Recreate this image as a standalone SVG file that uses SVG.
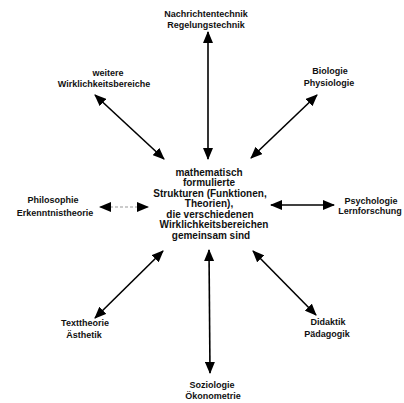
<svg xmlns="http://www.w3.org/2000/svg" width="404" height="403" viewBox="0 0 404 403">
<defs>
<marker id="ah" viewBox="0 0 12 10" refX="11" refY="5" markerWidth="12" markerHeight="10" markerUnits="userSpaceOnUse" orient="auto-start-reverse">
<path d="M0,0 L12,5 L0,10 Z" fill="#000"/>
</marker>
<style>
text{font-family:"Liberation Sans",Arial,sans-serif;font-weight:bold;fill:#111;text-anchor:middle}
.s{font-size:9px}
.c{font-size:10px}
.ln{stroke:#000;stroke-width:1.6;fill:none;marker-start:url(#ah);marker-end:url(#ah)}
.lg{stroke:#bbb;stroke-width:1.4;stroke-dasharray:3 2;fill:none;marker-start:url(#ah);marker-end:url(#ah)}
</style>
</defs>
<rect width="404" height="403" fill="#fff"/>
<g id="connectors">
<line class="ln" x1="208" y1="32" x2="208" y2="159"/>
<line class="ln" x1="95" y1="95" x2="164" y2="159"/>
<line class="ln" x1="317" y1="95" x2="251" y2="158"/>
<line class="lg" x1="100" y1="207" x2="148" y2="207"/>
<line class="ln" x1="271" y1="205" x2="334" y2="205"/>
<line class="ln" x1="163" y1="251" x2="95" y2="318"/>
<line class="ln" x1="253" y1="251" x2="316" y2="315"/>
<line class="ln" x1="209" y1="250" x2="210" y2="373"/>
</g>
<g id="center">
<text class="c" x="209" y="175.5">mathematisch</text>
<text class="c" x="209" y="186">formulierte</text>
<text class="c" x="210" y="196.5">Strukturen (Funktionen,</text>
<text class="c" x="209" y="207">Theorien),</text>
<text class="c" x="210" y="217.5">die verschiedenen</text>
<text class="c" x="214" y="228">Wirklichkeitsbereichen</text>
<text class="c" x="211" y="238.5">gemeinsam sind</text>
</g>
<g id="n-top">
<text class="s" x="206" y="17">Nachrichtentechnik</text>
<text class="s" x="206" y="28">Regelungstechnik</text>
</g>
<g id="n-upperleft">
<text class="s" x="108" y="76">weitere</text>
<text class="s" x="104" y="87">Wirklichkeitsbereiche</text>
</g>
<g id="n-upperright">
<text class="s" x="330" y="74">Biologie</text>
<text class="s" x="329" y="86">Physiologie</text>
</g>
<g id="n-left">
<text class="s" x="53" y="203">Philosophie</text>
<text class="s" x="55" y="216">Erkenntnistheorie</text>
</g>
<g id="n-right">
<text class="s" x="371" y="204">Psychologie</text>
<text class="s" x="370" y="214">Lernforschung</text>
</g>
<g id="n-lowerleft">
<text class="s" x="85" y="326">Texttheorie</text>
<text class="s" x="84" y="338">Ästhetik</text>
</g>
<g id="n-lowerright">
<text class="s" x="328" y="325">Didaktik</text>
<text class="s" x="327" y="337">Pädagogik</text>
</g>
<g id="n-bottom">
<text class="s" x="212" y="388">Soziologie</text>
<text class="s" x="213" y="399">Ökonometrie</text>
</g>
</svg>
